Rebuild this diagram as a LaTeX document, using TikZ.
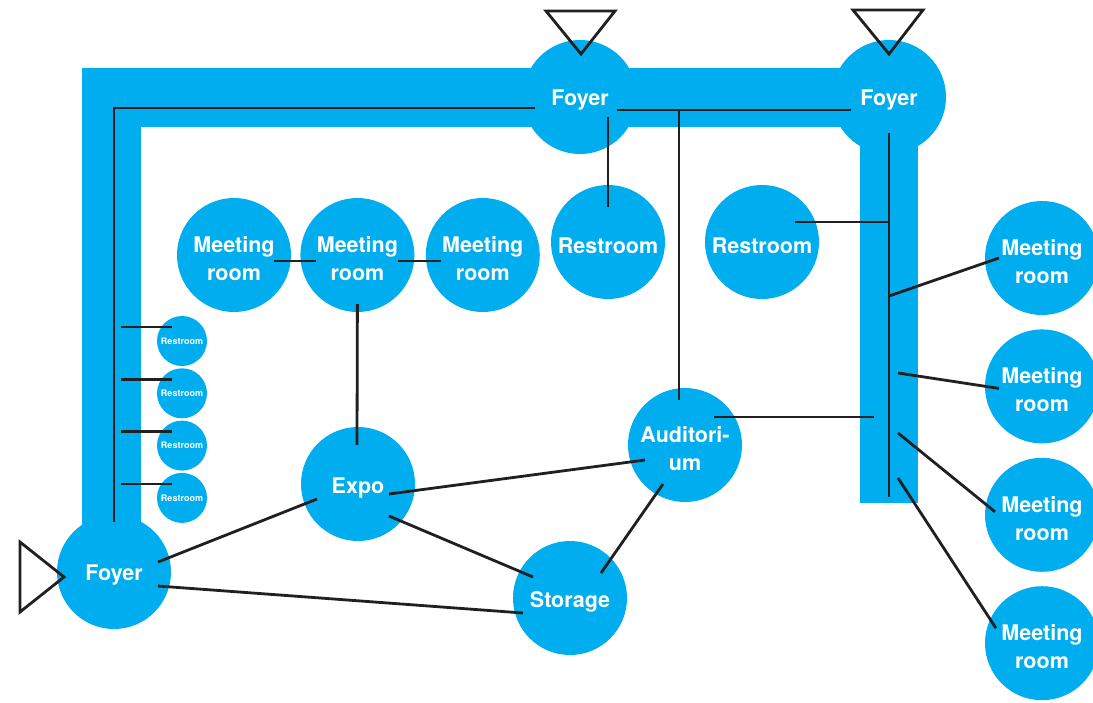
\documentclass[tikz,border=0pt]{standalone}
\usepackage{fontspec}
\setmainfont{TeX Gyre Heros}
\usepackage{tikz}
\usetikzlibrary{positioning,calc}
\definecolor{planblue}{HTML}{00AEEF}
\definecolor{planink}{HTML}{231F20}
\tikzset{
  roomtext/.style={text=white, align=center, inner sep=0pt, yshift=-3.5pt, font=\fontsize{21.5}{28}\selectfont\bfseries},
  room/.style={circle, fill=planblue, inner sep=0pt, minimum size=114pt, label={[roomtext]center:{#1}}},
  wc/.style={circle, fill=planblue, inner sep=0pt, minimum size=50pt, text=white, font=\fontsize{9}{10}\selectfont\bfseries},
  corridor/.style={fill=planblue},
  link/.style={draw=planink, line width=2.8pt},
  entry/.style={draw=planink, line width=2.8pt, line join=miter}
}

\begin{document}
\begin{tikzpicture}[x=1pt, y=-1pt, node distance=14pt and 9pt]
    \useasboundingbox (0,0) rectangle (1093,702);
    \fill[corridor] (82,68) rectangle (890,127);
    \fill[corridor] (82,68) rectangle (141,560);
    \fill[corridor] (860,97) rectangle (918,503);

    \node[room=Foyer] (foyerM) at (580,97) {};
    \node[room=Foyer] (foyerR) at (889,97) {};
    \node[room=Foyer] (foyerL) at (114,572) {};
    \node[room={Meeting\\ room}] (mr1) at (234,255) {};
    \node[room={Meeting\\ room}, right=of mr1] (mr2) {};
    \node[room={Meeting\\ room}, right=11pt of mr2] (mr3) {};
    \node[room=Restroom] (restA) at (608,242) {};
    \node[room=Restroom] (restB) at (762,242) {};
    \node[room={Meeting\\ room}] (mrR1) at (1042,258) {};
    \node[room={Meeting\\ room}, below=of mrR1] (mrR2) {};
    \node[room={Meeting\\ room}, below=of mrR2] (mrR3) {};
    \node[room={Meeting\\ room}, below=of mrR3] (mrR4) {};
    \node[room=Expo] (expo) at (358,484) {};
    \node[room={Auditori-\\ um}] (audi) at (685,445) {};
    \node[room=Storage] (store) at (570,598) {};
    \foreach \i in {1,...,4}
      \node[wc] (wc\i) at (182,{341+52.3*(\i-1)}) {Restroom};

    \coordinate (topL) at ($(foyerM)+(37,13)$);
    \coordinate (spineT) at ($(foyerR)+(0,36)$);
    \coordinate (spineB) at ($(foyerR)+(0,400)$);
    \coordinate (audTop) at ($(audi)+(-6,-45)$);

    \draw[link] ($(foyerL)+(0,-50)$) |- ($(foyerM)+(-45,11)$);
    \draw[link] (topL) -- ($(foyerR)+(-38,13)$);
    \foreach \r in {mr1,mr2,mr3}
      \draw[link] ($(\r)+(0,-40)$) -- ($(\r)+(0,-40)$ |- topL);
    \draw[link] ($(foyerM)+(28,20)$) -- ($(restA)+(0,-35)$);
    \draw[link] (audTop) -- (audTop |- topL);
    \draw[link] (mr1.center) ++(40,6) -- ($(mr2)+(-41,6)$);
    \draw[link] (mr2.center) ++(41,6) -- ($(mr3)+(-42,6)$);
    \draw[link] ($(mr2)+(0,49)$) -- ($(expo)+(-1,-39)$);
    \foreach \i in {1,...,4}
      \draw[link] ($(wc\i)+(-61,-14)$) -- ($(wc\i)+(-10,-14)$);

    \draw[link] (spineT) -- (spineB);
    \draw[link] ($(restB)+(33,-20)$) -- (spineT |- {$(restB)+(33,-20)$});
    \draw[link] ($(spineT)+(0,163)$) -- ($(mrR1)+(-43,0)$);
    \draw[link] ($(spineT)+(9,240)$) -- ($(mrR2)+(-43,2)$);
    \draw[link] ($(audi)+(29,-28)$) -- ($(spineT)+(-15,284)$);
    \draw[link] ($(spineT)+(9,300)$) -- ($(mrR3)+(-47,-3)$);
    \draw[link] ($(spineT)+(9,345)$) -- ($(mrR4)+(-46,-15)$);

    \draw[link] ($(foyerL)+(44,-10)$) -- ($(expo)+(-41,15)$);
    \draw[link] ($(foyerL)+(44,14)$) -- ($(store)+(-47,15)$);
    \draw[link] ($(expo)+(31,10)$) -- ($(audi)+(-40,15)$);
    \draw[link] ($(expo)+(31,32)$) -- ($(store)+(-37,-21)$);
    \draw[link] ($(audi)+(-22,39)$) -- ($(store)+(31,-25)$);

    \draw[entry] ($(foyerM)+(-34,-86)$) -- ($(foyerM)+(35,-86)$) -- ($(foyerM)+(1,-43)$) -- cycle;
    \draw[entry] ($(foyerR)+(-36,-87)$) -- ($(foyerR)+(34,-87)$) -- ($(foyerR)+(0,-43)$) -- cycle;
    \draw[entry] ($(foyerL)+(-94,-30)$) -- ($(foyerL)+(-94,40)$) -- ($(foyerL)+(-50,5)$) -- cycle;
\end{tikzpicture}
\end{document}
